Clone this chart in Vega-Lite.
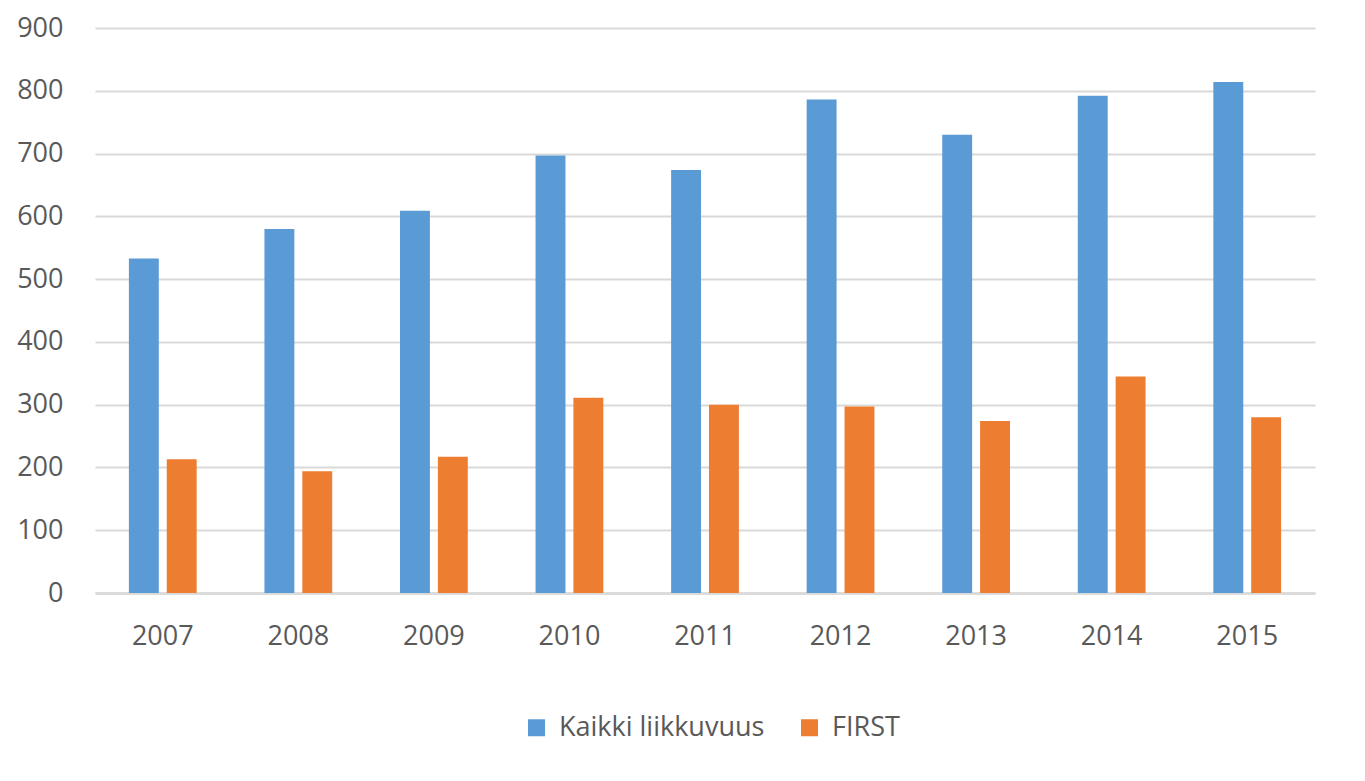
{
  "$schema": "https://vega.github.io/schema/vega-lite/v6.json",
  "autosize": "none",
  "width": 1220,
  "height": 565,
  "padding": {"left": 95, "top": 28, "right": 50, "bottom": 188},
  "background": "white",
  "data": {
    "values": [
      {"year": "2007", "series": "Kaikki liikkuvuus", "value": 533},
      {"year": "2008", "series": "Kaikki liikkuvuus", "value": 580},
      {"year": "2009", "series": "Kaikki liikkuvuus", "value": 609},
      {"year": "2010", "series": "Kaikki liikkuvuus", "value": 697},
      {"year": "2011", "series": "Kaikki liikkuvuus", "value": 674},
      {"year": "2012", "series": "Kaikki liikkuvuus", "value": 786},
      {"year": "2013", "series": "Kaikki liikkuvuus", "value": 730},
      {"year": "2014", "series": "Kaikki liikkuvuus", "value": 792},
      {"year": "2015", "series": "Kaikki liikkuvuus", "value": 814},
      {"year": "2007", "series": "FIRST", "value": 213},
      {"year": "2008", "series": "FIRST", "value": 194},
      {"year": "2009", "series": "FIRST", "value": 217},
      {"year": "2010", "series": "FIRST", "value": 311},
      {"year": "2011", "series": "FIRST", "value": 300},
      {"year": "2012", "series": "FIRST", "value": 297},
      {"year": "2013", "series": "FIRST", "value": 274},
      {"year": "2014", "series": "FIRST", "value": 345},
      {"year": "2015", "series": "FIRST", "value": 280}
    ]
  },
  "mark": {"type": "bar"},
  "encoding": {
    "x": {
      "field": "year",
      "type": "nominal",
      "sort": null,
      "scale": {"paddingInner": 0.5, "paddingOuter": 0.25},
      "axis": {
        "title": null,
        "labelAngle": 0,
        "labelFont": "Open Sans",
        "labelFontSize": 27,
        "labelColor": "#595959",
        "labelPadding": 30,
        "ticks": false,
        "domain": true,
        "domainColor": "#d9d9d9",
        "domainWidth": 2.5,
        "grid": false
      }
    },
    "xOffset": {
      "field": "series",
      "type": "nominal",
      "sort": ["Kaikki liikkuvuus", "FIRST"],
      "scale": {"paddingInner": 0.21, "paddingOuter": 0}
    },
    "y": {
      "field": "value",
      "type": "quantitative",
      "scale": {"domain": [0, 900], "nice": false},
      "axis": {
        "title": null,
        "values": [0, 100, 200, 300, 400, 500, 600, 700, 800, 900],
        "labelFont": "Open Sans",
        "labelFontSize": 27,
        "labelColor": "#595959",
        "labelPadding": 32,
        "ticks": false,
        "domain": false,
        "grid": true,
        "gridColor": "#d9d9d9",
        "gridWidth": 2
      }
    },
    "color": {
      "field": "series",
      "type": "nominal",
      "scale": {
        "domain": ["Kaikki liikkuvuus", "FIRST"],
        "range": ["#5b9bd5", "#ed7d31"]
      },
      "legend": {
        "title": null,
        "orient": "none",
        "direction": "horizontal",
        "legendX": 428,
        "legendY": 686,
        "padding": 0,
        "symbolType": "square",
        "symbolSize": 289,
        "symbolStrokeWidth": 0,
        "labelFont": "Open Sans",
        "labelFontSize": 27,
        "labelColor": "#595959",
        "labelLimit": 0,
        "labelOffset": 9,
        "columnPadding": 31
      }
    }
  },
  "config": {
    "view": {"stroke": null}
  }
}
